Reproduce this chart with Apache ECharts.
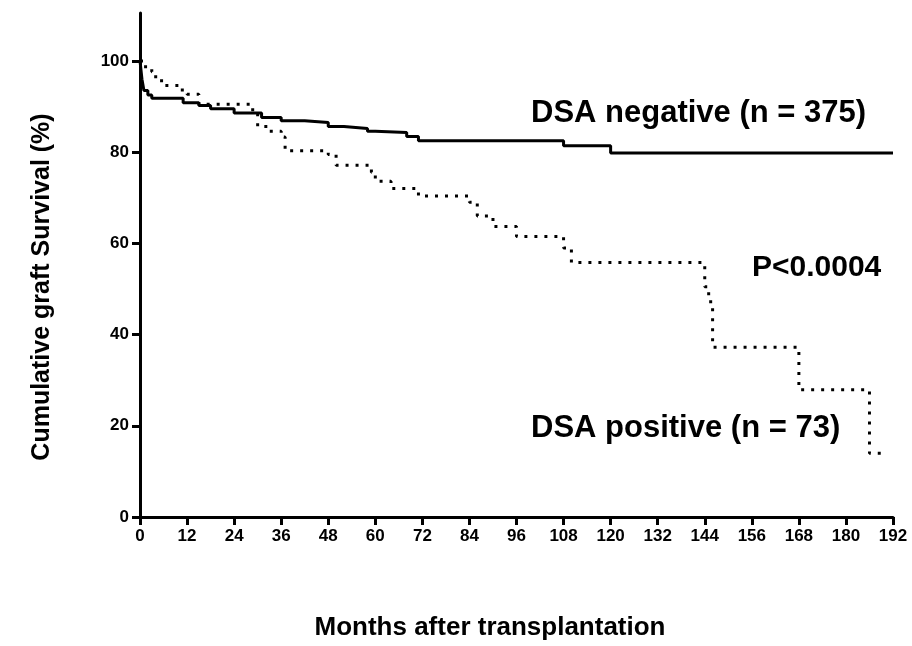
<!DOCTYPE html>
<html>
<head>
<meta charset="utf-8">
<script src="https://cdn.jsdelivr.net/npm/echarts@6/dist/echarts.min.js"></script>
<style>
html,body{margin:0;padding:0;background:#fff;}
#chart{width:912px;height:646px;}
</style>
</head>
<body>
<div id="chart"></div>
<script>
// DSA negative (solid) Kaplan-Meier steps: month, survival %
const negMonths   = [0, 0.5, 1, 2, 3, 11, 15, 18, 24, 31, 36, 42, 48, 52, 58, 60, 68, 71, 108, 120, 192];
const negSurvival = [100, 96, 93.5, 92.5, 91.8, 90.8, 90.2, 89.5, 88.6, 87.6, 86.9, 86.5, 85.6, 85.2, 84.6, 84.3, 83.4, 82.5, 81.4, 79.8, 79.8];
// DSA positive (dotted)
const posMonths   = [0, 1, 3, 4, 5.5, 10, 12, 15, 28, 30, 33, 36, 37, 48, 50, 59, 60, 64, 71, 84, 86, 90, 96, 108, 110, 144, 145, 146, 168, 186, 190.5];
const posSurvival = [100, 98.7, 97.6, 96, 94.6, 93.6, 92.7, 90.5, 89.3, 85.6, 84.6, 83.3, 80.3, 79.5, 77.1, 75.6, 73.6, 72.0, 70.4, 69, 66, 63.7, 61.5, 59, 55.8, 50.5, 47.2, 37.2, 27.9, 14, 14];
const yTicks = [0, 20, 40, 60, 80, 100];
const xTickInterval = 12;
const labels = {
  neg: 'DSA negative (n = 375)',
  pos: 'DSA positive (n = 73)',
  p: 'P<0.0004',
  xTitle: 'Months after transplantation',
  yTitle: 'Cumulative graft Survival (%)'
};

const chart = echarts.init(document.getElementById('chart'), null, {renderer: 'canvas'});
const toPairs = (xs, ys) => xs.map((x, i) => [x, ys[i]]);
const tickFont = {fontFamily: '"Liberation Sans Narrow", "Liberation Sans", Arial, sans-serif', fontWeight: 'bold', fontSize: 17, color: '#000'};
const textFont = '"Liberation Sans", Arial, sans-serif';

chart.setOption({
  animation: false,
  backgroundColor: '#fff',
  grid: {left: 140, right: 19, top: 13, bottom: 129, containLabel: false},
  xAxis: {
    type: 'value', min: 0, max: 192, interval: xTickInterval,
    axisLine: {show: true, lineStyle: {color: '#000', width: 3}},
    axisTick: {show: true, length: 8, lineStyle: {color: '#000', width: 3}},
    axisLabel: Object.assign({margin: 11}, tickFont),
    splitLine: {show: false}
  },
  yAxis: {
    type: 'value', min: 0, max: 110.5, interval: 20,
    axisLine: {show: true, lineStyle: {color: '#000', width: 3}},
    axisTick: {show: true, length: 8, customValues: yTicks, lineStyle: {color: '#000', width: 3}},
    axisLabel: Object.assign({margin: 11, customValues: yTicks}, tickFont),
    splitLine: {show: false}
  },
  series: [
    {
      type: 'line', name: labels.neg, step: 'end', showSymbol: false, symbol: 'none',
      data: toPairs(negMonths, negSurvival),
      lineStyle: {color: '#000', width: 3, type: 'solid'}, z: 3
    },
    {
      type: 'line', name: labels.pos, step: 'end', showSymbol: false, symbol: 'none',
      data: toPairs(posMonths, posSurvival),
      lineStyle: {color: '#000', width: 3, type: [3, 7], cap: 'butt'}, z: 2
    }
  ],
  graphic: [
    {type: 'text', left: 531, top: 98, style: {text: labels.neg, font: 'bold 31px ' + textFont, fill: '#000'}},
    {type: 'text', left: 752, top: 253, style: {text: labels.p, font: 'bold 30px ' + textFont, fill: '#000'}},
    {type: 'text', left: 531, top: 413, style: {text: labels.pos, font: 'bold 31px ' + textFont, fill: '#000'}},
    {type: 'text', x: 490, y: 628, style: {text: labels.xTitle, font: 'bold 26px ' + textFont, fill: '#000', align: 'center', verticalAlign: 'middle'}},
    {type: 'text', x: 42, y: 287, rotation: Math.PI / 2, style: {text: labels.yTitle, font: 'bold 25px ' + textFont, fill: '#000', align: 'center', verticalAlign: 'middle'}}
  ]
});
</script>
</body>
</html>
